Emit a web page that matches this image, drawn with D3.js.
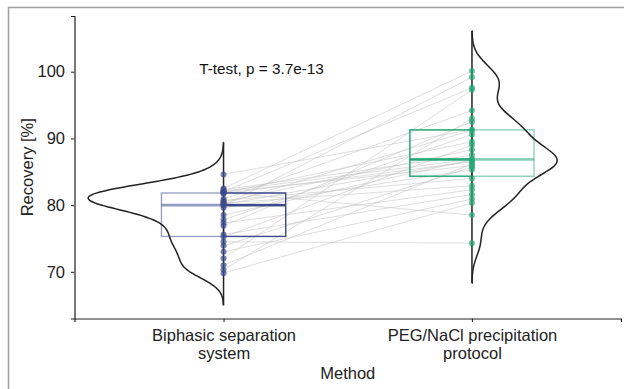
<!DOCTYPE html>
<html>
<head>
<meta charset="utf-8">
<script src="https://cdnjs.cloudflare.com/ajax/libs/d3/7.8.5/d3.min.js"></script>
<style>
  body { margin: 0; background: #fff; }
  text { font-family: "Liberation Sans", Arial, sans-serif; }
</style>
</head>
<body>
<div id="chart"></div>
<script>
// paired recovery values, one entry per sample
var methods = ["Biphasic separation system", "PEG/NaCl precipitation protocol"];
var methodLines = [["Biphasic separation", "system"], ["PEG/NaCl precipitation", "protocol"]];
var biphasic = [84.6, 82.5, 82.3, 82.1, 82.0, 81.95, 81.85, 81.7, 80.9, 80.7,
                80.5, 80.3, 80.2, 80.1, 79.9, 79.6, 78.5, 77.8, 77.3, 76.9,
                75.6, 75.2, 74.5, 73.9, 73.0, 72.0, 71.0, 70.3, 69.8, 81.9];
var peg = [91.3, 100.1, 87.5, 86.9, 97.6, 85.9, 89.5, 86.5, 94.2, 84.0,
           88.3, 82.9, 91.2, 86.7, 99.2, 85.3, 86.8, 90.6, 82.3, 92.5,
           81.6, 89.0, 74.3, 85.7, 80.9, 97.3, 86.2, 93.0, 80.3, 78.5];
var yTicks = [70, 80, 90, 100];
var annotation = "T-test, p = 3.7e-13";

var colors = ["#3d4b8c", "#27a878"];

var margin = {top: 16, right: 3, bottom: 70.5, left: 74.5},
    W = 624, H = 389,
    width = W - margin.left - margin.right,
    height = H - margin.top - margin.bottom;

var svg = d3.select("#chart").append("svg")
    .attr("width", W).attr("height", H);

// frame of the cropped figure
svg.append("path")
    .attr("d", "M8.5,389V7.5H624")
    .attr("fill", "none").attr("stroke", "#a0a0a0").attr("stroke-width", 1.5);

var g = svg.append("g")
    .attr("transform", "translate(" + margin.left + "," + margin.top + ")");

var x = d3.scalePoint().domain(methods).range([0, width]).padding(0.6);
var y = d3.scaleLinear().domain([63.0, 108.35]).range([height, 0]);
var step = x.step();

var groups = [biphasic, peg];

// kernel density, bandwidth like R's nrd0 (with adjust)
function nrd0(v) {
  var s = d3.deviation(v);
  var sorted = v.slice().sort(d3.ascending);
  var iqr = d3.quantile(sorted, 0.75) - d3.quantile(sorted, 0.25);
  return 0.9 * Math.min(s, iqr / 1.34) * Math.pow(v.length, -0.2);
}
function kde(v) {
  var bw = nrd0(v) * 0.85;
  var lo = d3.min(v) - 3 * bw, hi = d3.max(v) + 3 * bw;
  return d3.range(201).map(function(i) {
    var t = lo + (hi - lo) * i / 200;
    var d = d3.mean(v, function(xi) {
      var u = (t - xi) / bw;
      return Math.exp(-0.5 * u * u) / Math.sqrt(2 * Math.PI);
    }) / bw;
    return [t, d];
  });
}
var dens = groups.map(kde);
var maxD = d3.max(dens, function(d) { return d3.max(d, function(p) { return p[1]; }); });
var w = d3.scaleLinear().domain([0, maxD]).range([0, step * 0.545]);

// paired lines
biphasic.forEach(function(v, i) {
  g.append("line")
    .attr("x1", x(methods[0])).attr("y1", y(v))
    .attr("x2", x(methods[1])).attr("y2", y(peg[i]))
    .attr("stroke", "#c4c4c4").attr("stroke-opacity", 0.7)
    .attr("stroke-width", 0.8);
});

// boxes: faint full box and solid half toward the other group
groups.forEach(function(v, k) {
  var s = v.slice().sort(d3.ascending);
  var q1 = d3.quantile(s, 0.25), med = d3.quantile(s, 0.5), q3 = d3.quantile(s, 0.75);
  var cx = x(methods[k]), hw = step * 0.25;
  g.append("rect")
    .attr("x", cx - hw).attr("y", y(q3))
    .attr("width", 2 * hw).attr("height", y(q1) - y(q3))
    .attr("fill", "none").attr("stroke", colors[k]).attr("stroke-opacity", 0.55)
    .attr("stroke-width", 1.3);
  g.append("line")
    .attr("x1", cx - hw).attr("x2", cx + hw).attr("y1", y(med)).attr("y2", y(med))
    .attr("stroke", colors[k]).attr("stroke-opacity", 0.55).attr("stroke-width", 2.6);
  var x0 = k === 0 ? cx : cx - hw;
  g.append("rect")
    .attr("x", x0).attr("y", y(q3))
    .attr("width", hw).attr("height", y(q1) - y(q3))
    .attr("fill", "none").attr("stroke", colors[k]).attr("stroke-width", 1.3);
  g.append("line")
    .attr("x1", x0).attr("x2", x0 + hw).attr("y1", y(med)).attr("y2", y(med))
    .attr("stroke", colors[k]).attr("stroke-width", 2.2);
});

// half violins: left side for the first group, right side for the second
dens.forEach(function(d, k) {
  var cx = x(methods[k]), dir = k === 0 ? -1 : 1;
  var area = d3.line()
    .x(function(p) { return cx + dir * w(p[1]); })
    .y(function(p) { return y(p[0]); })
    .curve(d3.curveBasis);
  var pts = [[d[0][0], 0]].concat(d).concat([[d[d.length - 1][0], 0]]);
  g.append("path")
    .attr("d", area(pts))
    .attr("fill", "none").attr("stroke", "#222").attr("stroke-width", 1.5);
  g.append("line")
    .attr("x1", cx).attr("x2", cx)
    .attr("y1", y(d[0][0])).attr("y2", y(d[d.length - 1][0]))
    .attr("stroke", "#222").attr("stroke-width", 1.5);
});

// points
groups.forEach(function(v, k) {
  g.selectAll(".pt" + k).data(v).enter().append("circle")
    .attr("cx", x(methods[k])).attr("cy", function(d) { return y(d); })
    .attr("r", 3)
    .attr("fill", colors[k]).attr("fill-opacity", 0.7);
});

// axes
var yAxis = g.append("g").call(d3.axisLeft(y).tickValues(yTicks).tickSize(3.5).tickPadding(6));
var xAxis = g.append("g").attr("transform", "translate(0," + height + ")")
    .call(d3.axisBottom(x).tickSize(3.5).tickFormat(""));
[yAxis, xAxis].forEach(function(a) {
  a.select(".domain").attr("stroke", "#222").attr("stroke-width", 1.2);
  a.selectAll(".tick line").attr("stroke", "#333").attr("stroke-width", 1.1);
});
yAxis.selectAll(".tick text").attr("font-size", "16.5px").attr("fill", "#222")
    .style("font-family", "Liberation Sans, Arial, sans-serif");

xAxis.selectAll(".tick").each(function(d, i) {
  var t = d3.select(this).append("text")
      .attr("text-anchor", "middle").attr("fill", "#222")
      .attr("font-size", "16.5px").attr("y", 22);
  methodLines[i].forEach(function(line, j) {
    t.append("tspan").attr("x", 0).attr("dy", j === 0 ? 0 : "1.1em").text(line);
  });
});

g.append("text")
    .attr("x", width / 2).attr("y", height + 60)
    .attr("text-anchor", "middle").attr("font-size", "16.5px").attr("fill", "#222")
    .text("Method");

g.append("text")
    .attr("transform", "rotate(-90)")
    .attr("x", -height / 2).attr("y", -42)
    .attr("text-anchor", "middle").attr("font-size", "16.5px").attr("fill", "#222")
    .text("Recovery [%]");

g.append("text")
    .attr("x", x(methods[0]) + 38).attr("y", y(100) + 2.5)
    .attr("text-anchor", "middle").attr("font-size", "15.3px").attr("fill", "#111")
    .text(annotation);
</script>
</body>
</html>
